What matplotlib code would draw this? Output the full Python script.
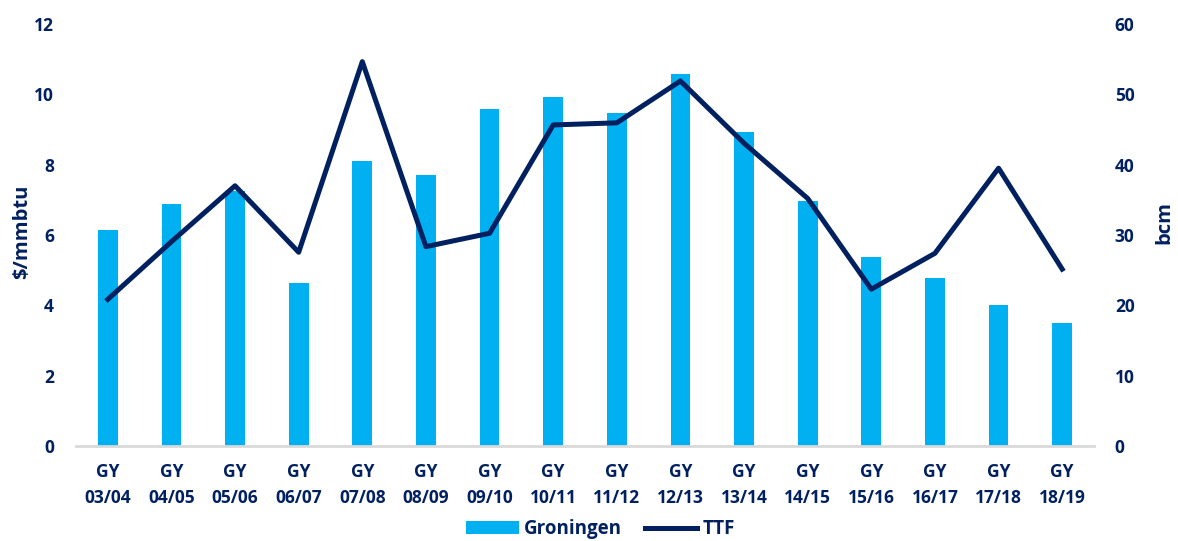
import matplotlib
matplotlib.use("Agg")
import matplotlib.pyplot as plt
import numpy as np

# 数据
years = ["03/04", "04/05", "05/06", "06/07", "07/08", "08/09", "09/10", "10/11",
         "11/12", "12/13", "13/14", "14/15", "15/16", "16/17", "17/18", "18/19"]
groningen = [30.7, 34.4, 36.2, 23.2, 40.5, 38.5, 47.9, 49.6,
             47.3, 52.9, 44.7, 34.9, 26.9, 23.9, 20.0, 17.5]   # bcm
ttf = [4.17, 5.81, 7.40, 5.51, 10.93, 5.67, 6.05, 9.13,
       9.19, 10.38, 8.61, 7.04, 4.46, 5.48, 7.90, 5.03]        # $/mmbtu

navy = "#002060"
blue = "#00B0F0"
plt.rcParams["font.family"] = ["Open Sans", "DejaVu Sans"]
plt.rcParams["font.weight"] = "bold"

fig = plt.figure(figsize=(11.78, 5.41), dpi=100)
ax = fig.add_axes([0.0645, 0.1756, 0.8642, 0.78])
ax2 = ax.twinx()

x = np.arange(len(years))
# bars on the right axis (bcm), line on the left axis ($/mmbtu)
ax2.bar(x, groningen, width=0.31, color=blue, zorder=1, label="Groningen")
ax.plot(x, ttf, color=navy, lw=3.6, zorder=5, label="TTF")

ax.set_zorder(ax2.get_zorder() + 1)
ax.patch.set_visible(False)

ax.set_xlim(-0.5, len(years) - 0.5)
ax.set_ylim(0, 12)
ax2.set_ylim(0, 60)
ax.set_yticks(range(0, 13, 2))
ax2.set_yticks(range(0, 61, 10))
ax.set_xticks(x)
ax.set_xticklabels(["GY\n" + y for y in years], linespacing=1.6)

for a in (ax, ax2):
    for s in a.spines.values():
        s.set_visible(False)
    a.tick_params(length=0, labelsize=12.5, labelcolor=navy)
ax2.spines["bottom"].set_visible(True)
ax2.spines["bottom"].set_color("#D9D9D9")
ax2.spines["bottom"].set_linewidth(2)
ax.tick_params(axis="y", pad=16)
ax2.tick_params(axis="y", pad=15)
ax.tick_params(axis="x", pad=12)

# axis titles
fig.text(0.0187, 0.571, "$/mmbtu", rotation=90, ha="center", va="center",
         fontsize=14.5, color=navy, fontweight="bold")
fig.text(0.9885, 0.588, "bcm", rotation=90, ha="center", va="center",
         fontsize=14.5, color=navy, fontweight="bold")

h1, l1 = ax2.get_legend_handles_labels()
h2, l2 = ax.get_legend_handles_labels()
fig.legend(h1 + h2, l1 + l2, loc="lower center", bbox_to_anchor=(0.51, -0.028),
           ncol=2, frameon=False, fontsize=13.5, labelcolor=navy,
           handlelength=2.8, handletextpad=0.3, columnspacing=1.2)

fig.savefig("out.png", dpi=100)
